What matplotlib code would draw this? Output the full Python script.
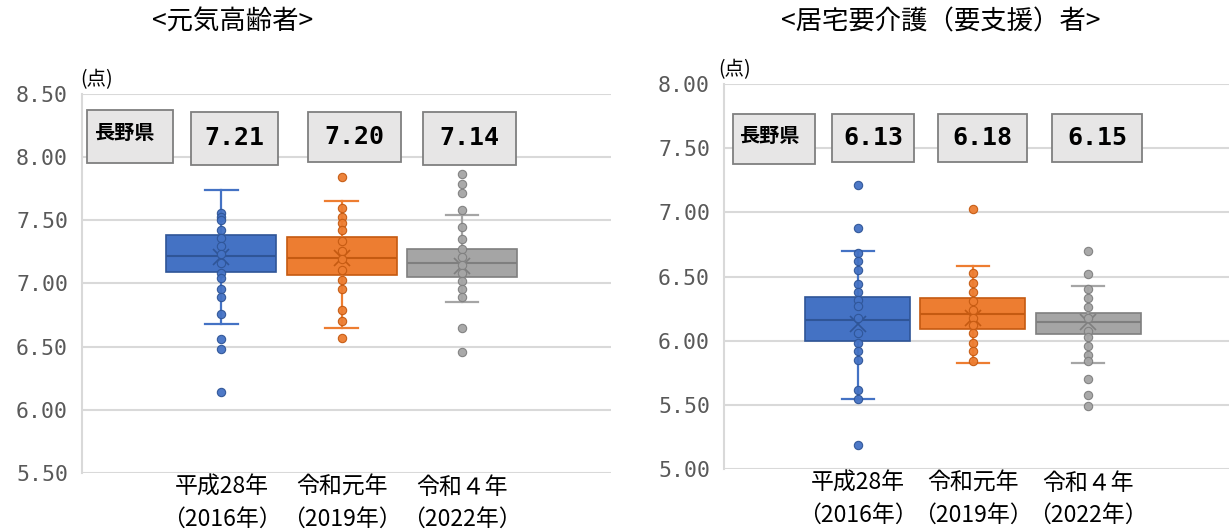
import matplotlib.pyplot as plt
from matplotlib.patches import Rectangle

plt.rcParams['font.family'] = ['Noto Sans CJK JP', 'DejaVu Sans']

# === DATA ===
categories = ['平成28年\n（2016年）', '令和元年\n（2019年）', '令和４年\n（2022年）']
colors = ['#4472c4', '#ed7d31', '#a5a5a5']
edges = ['#2f5597', '#c55a11', '#7f7f7f']

# 元気高齢者
elder_q1 = [7.09, 7.065, 7.05]
elder_med = [7.22, 7.20, 7.16]
elder_q3 = [7.38, 7.365, 7.27]
elder_lo = [6.68, 6.65, 6.85]
elder_hi = [7.74, 7.65, 7.54]
elder_mean = [7.21, 7.20, 7.14]
elder_2016 = [7.56, 7.53, 7.50, 7.42, 7.36, 7.30, 7.23, 7.16, 7.08, 7.04,
              6.96, 6.89, 6.76, 6.56, 6.48, 6.14]
elder_2019 = [7.84, 7.60, 7.53, 7.48, 7.42, 7.34, 7.26, 7.19, 7.11, 7.03,
              6.96, 6.79, 6.70, 6.57]
elder_2022 = [7.87, 7.79, 7.72, 7.58, 7.45, 7.35, 7.27, 7.21, 7.15, 7.08,
              7.02, 6.96, 6.89, 6.65, 6.46]

# 居宅要介護（要支援）者
care_q1 = [6.00, 6.09, 6.05]
care_med = [6.16, 6.21, 6.15]
care_q3 = [6.34, 6.33, 6.22]
care_lo = [5.55, 5.83, 5.83]
care_hi = [6.70, 6.58, 6.43]
care_mean = [6.13, 6.18, 6.15]
care_2016 = [7.21, 6.88, 6.68, 6.62, 6.55, 6.44, 6.38, 6.32, 6.27, 6.18,
             6.06, 5.98, 5.92, 5.85, 5.62, 5.55, 5.19]
care_2019 = [7.03, 6.53, 6.45, 6.38, 6.31, 6.24, 6.18, 6.12, 6.06, 5.98,
             5.92, 5.84]
care_2022 = [6.70, 6.52, 6.40, 6.33, 6.26, 6.18, 6.08, 6.03, 5.96, 5.89,
             5.84, 5.70, 5.58, 5.49]

elder_ticks = [5.5, 6.0, 6.5, 7.0, 7.5, 8.0, 8.5]
care_ticks = [5.0, 5.5, 6.0, 6.5, 7.0, 7.5, 8.0]

GRID = '#d9d9d9'
TICK_COLOR = '#595959'


def draw_panel(ax, q1, med, q3, lo, hi, mean, points, ticks, xlim,
               boxw, capw, label_boxes):
    positions = [1, 2, 3]
    for i in range(3):
        stats = [{'q1': q1[i], 'med': med[i], 'q3': q3[i],
                  'whislo': lo[i], 'whishi': hi[i], 'mean': mean[i],
                  'fliers': []}]
        ax.bxp(stats, positions=[positions[i]], widths=boxw,
               capwidths=capw, patch_artist=True, showmeans=True,
               showfliers=False,
               boxprops=dict(facecolor=colors[i], edgecolor=edges[i], lw=1.2),
               medianprops=dict(color=edges[i], lw=1.5),
               whiskerprops=dict(color=colors[i], lw=1.6),
               capprops=dict(color=colors[i], lw=1.6),
               meanprops=dict(marker='x', markeredgecolor=edges[i],
                              markersize=12, markeredgewidth=1.2),
               zorder=2)
        pts = points[i]
        ax.scatter([positions[i]] * len(pts), pts, s=36,
                   facecolor=colors[i], edgecolor=edges[i], lw=0.8,
                   zorder=3, alpha=0.95)

    ax.set_xlim(*xlim)
    ax.set_ylim(ticks[0], ticks[-1])
    ax.set_yticks(ticks)
    ax.set_yticklabels([f'{t:.2f}' for t in ticks], family='DejaVu Sans Mono',
                       fontsize=15.5, color=TICK_COLOR)
    ax.set_xticks(positions)
    ax.set_xticklabels(categories, fontsize=16.5, linespacing=1.5)
    ax.tick_params(length=0, pad=2)
    ax.tick_params(axis='y', pad=10)
    ax.grid(axis='y', color=GRID, lw=1.5)
    ax.set_axisbelow(True)
    for s in ['top', 'right', 'bottom']:
        ax.spines[s].set_visible(False)
    ax.spines['left'].set_color(GRID)
    ax.spines['left'].set_linewidth(1.5)

    for (x0, x1, y0, y1, txt, is_name) in label_boxes:
        ax.add_patch(Rectangle((x0, y0), x1 - x0, y1 - y0,
                               transform=ax.transAxes, facecolor='#e7e6e6',
                               edgecolor='#7f7f7f', lw=1.3, zorder=5,
                               clip_on=False))
        if is_name:
            ax.text(x0 + 0.012, (y0 + y1) / 2 + 0.01, txt,
                    transform=ax.transAxes, ha='left', va='center',
                    fontsize=14.5, fontweight='bold', zorder=6)
        else:
            ax.text((x0 + x1) / 2, (y0 + y1) / 2, txt, transform=ax.transAxes,
                    ha='center', va='center', fontsize=18, fontweight='bold',
                    family='DejaVu Sans Mono', zorder=6)


fig = plt.figure(figsize=(12.29, 5.29), dpi=100)

ax1 = fig.add_axes([0.0667, 0.1059, 0.4304, 0.7164])
draw_panel(ax1, elder_q1, elder_med, elder_q3, elder_lo, elder_hi, elder_mean,
           [elder_2016, elder_2019, elder_2022], elder_ticks,
           (-0.16, 4.24), 0.915, 0.27,
           [(0.010, 0.172, 0.818, 0.958, '長野県', True),
            (0.206, 0.371, 0.813, 0.953, f'{elder_mean[0]:.2f}', False),
            (0.427, 0.603, 0.820, 0.953, f'{elder_mean[1]:.2f}', False),
            (0.645, 0.820, 0.813, 0.953, f'{elder_mean[2]:.2f}', False)])

ax2 = fig.add_axes([0.5891, 0.1129, 0.4109, 0.7284])
draw_panel(ax2, care_q1, care_med, care_q3, care_lo, care_hi, care_mean,
           [care_2016, care_2019, care_2022], care_ticks,
           (-0.165, 4.226), 0.913, 0.28,
           [(0.017, 0.181, 0.793, 0.922, '長野県', True),
            (0.213, 0.377, 0.797, 0.922, f'{care_mean[0]:.2f}', False),
            (0.424, 0.600, 0.797, 0.922, f'{care_mean[1]:.2f}', False),
            (0.650, 0.827, 0.797, 0.922, f'{care_mean[2]:.2f}', False)])

fig.text(233 / 1229, 1 - 22 / 529, '<元気高齢者>', ha='center', va='center',
         fontsize=19)
fig.text(941 / 1229, 1 - 22 / 529, '<居宅要介護（要支援）者>', ha='center',
         va='center', fontsize=19)
fig.text(80 / 1229, 1 - 80 / 529, '(点)', ha='left', va='center', fontsize=14)
fig.text(718 / 1229, 1 - 70 / 529, '(点)', ha='left', va='center', fontsize=14)

fig.savefig('out.png', dpi=100)
